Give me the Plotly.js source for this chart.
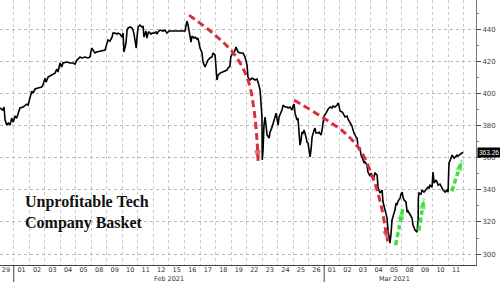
<!DOCTYPE html>
<html><head><meta charset="utf-8">
<script src="https://cdn.plot.ly/plotly-3.0.1.min.js"></script>
<style>html,body{margin:0;padding:0;background:#fff;}#chart{width:500px;height:282px;}</style>
</head><body><div id="chart"></div>
<script>
// Trading sessions shown on the axis (Jan 29 .. Mar 11, 2021)
const dayLabels = ['29','01','02','03','04','05','08','09','10','11','12','15','16','17','18','19','22','23','24','25','26','01','02','03','04','05','08','09','10','11'];
const monthLabels = ['Feb 2021','Mar 2021'];
const monthCenters = [11, 25.5];
const monthStarts = [1, 21];

// Intraday path of the basket: position in sessions (0 = Jan 29 open) and level
const sessionPos = [
0.11,0.29,0.37,0.44,0.55,0.65,0.76,0.87,0.97,1.08,1.19,1.29,1.40,1.60,1.83,1.92,2.05,2.16,2.24,2.37,2.56,2.80,2.88,3.01,3.08,3.21,3.44,3.66,3.77,3.85,3.98,4.09,4.17,4.41,4.62,4.82,4.95,5.06,5.27,5.38,5.59,5.78,5.91,6.02,6.11,6.23,6.34,6.56,
6.69,6.88,7.01,7.07,7.20,7.33,7.39,7.52,7.65,7.72,7.85,7.97,8.04,8.10,8.23,8.30,8.36,8.49,8.62,8.68,8.75,8.89,8.94,9.01,9.13,9.26,9.33,9.39,9.52,9.58,9.65,9.71,9.84,9.91,10.04,10.16,10.23,10.29,10.42,10.55,10.62,10.74,10.87,10.94,11.00,12.03,12.10,12.16,12.23,12.29,12.42,12.48,12.61,12.68,
12.81,12.87,13.00,13.13,13.19,13.32,13.45,13.51,13.64,13.77,13.84,13.97,14.09,14.16,14.29,14.48,14.74,14.80,14.93,14.98,15.13,15.19,15.32,15.45,15.58,15.71,15.77,15.90,16.03,16.09,16.22,16.35,16.54,16.67,16.74,16.87,16.93,16.99,17.01,17.06,17.12,17.19,17.25,17.32,17.45,17.51,17.64,17.70,17.83,17.90,17.96,18.03,18.09,18.22,18.28,18.35,18.48,
18.61,18.67,18.80,18.93,18.99,19.06,19.12,19.25,19.31,19.38,19.44,19.51,19.57,19.64,19.70,19.83,19.89,19.96,20.02,20.09,20.15,20.22,20.35,20.41,20.47,20.60,20.67,20.80,20.86,20.93,20.99,21.12,21.18,21.25,21.38,21.50,21.57,21.70,21.83,21.89,21.96,22.02,22.15,22.21,22.34,22.47,22.54,22.66,22.79,22.86,22.92,23.05,23.12,23.18,23.31,23.37,23.44,23.57,23.63,23.76,23.82,23.95,24.02,24.08,24.15,24.28,
24.41,24.47,24.60,24.73,24.79,24.92,25.05,25.11,25.18,25.24,25.31,25.37,25.50,25.56,25.63,25.69,25.76,25.89,25.95,26.02,26.08,26.14,26.27,26.34,26.40,26.53,26.66,26.72,26.85,26.98,27.05,27.07,27.11,27.24,27.30,27.43,27.56,27.69,27.76,27.82,27.95,28.01,28.08,28.21,28.27,28.34,28.46,28.59,28.66,28.79,28.91,28.98,29.00,29.04,29.17,29.24,29.37,29.43,29.56,29.62,29.75,29.88,29.95];
const basket = [
390.9,389.6,391.5,383.4,380.3,381.5,380.3,384.6,382.1,385.9,384.6,388.4,390.9,391.5,393.3,392.7,397.1,401.4,400.2,402.7,403.3,403.9,405.2,409.5,407.0,410.1,411.4,412.6,415.1,413.3,418.9,416.4,418.9,419.5,418.9,418.9,418.2,420.7,422.6,422.0,422.6,422.0,422.6,428.2,426.9,425.1,425.7,426.3,
426.3,426.9,431.3,433.2,432.5,435.0,437.5,437.5,436.9,437.5,436.9,435.0,437.5,425.7,431.3,439.4,440.6,441.3,440.6,439.4,436.9,428.2,435.0,441.3,442.5,441.3,441.9,435.0,438.8,434.4,437.5,438.2,436.9,437.5,437.5,438.2,436.9,438.2,439.4,438.8,438.8,439.4,437.5,438.2,438.8,438.8,443.7,445.0,442.5,439.4,431.9,435.7,434.4,435.0,
433.8,434.4,428.2,425.1,419.5,416.4,419.5,420.7,422.0,422.6,425.1,423.8,408.3,411.4,412.6,413.3,414.5,415.7,417.0,422.6,425.7,425.1,428.8,425.7,425.1,425.1,425.1,422.6,417.6,410.1,408.3,409.5,408.3,408.9,407.0,402.1,394.6,385.3,358.5,364.7,380.3,385.3,380.3,374.1,372.2,375.9,379.0,381.5,385.3,387.7,383.4,380.3,385.3,388.4,389.6,392.7,391.5,
391.5,390.9,391.5,389.6,392.1,393.3,387.7,383.4,384.6,377.2,367.8,370.9,375.9,375.3,377.2,372.8,369.7,369.1,366.0,360.4,364.7,372.8,377.2,378.4,375.3,375.3,375.9,374.1,377.2,381.5,385.9,387.7,389.0,390.2,391.5,390.9,392.1,391.5,392.7,394.0,392.1,389.0,388.4,387.7,385.3,385.9,384.0,382.1,379.7,377.2,375.3,372.8,372.2,366.6,366.0,361.6,360.4,356.6,357.3,355.4,351.0,348.5,350.4,347.9,346.1,350.4,
349.2,341.1,338.0,339.8,332.4,327.4,322.4,314.9,308.7,306.8,313.1,321.2,325.5,327.4,331.7,330.5,333.0,334.8,337.3,338.6,335.5,333.6,332.4,326.1,326.8,324.3,322.4,318.0,314.9,313.7,321.2,335.5,338.0,337.3,339.8,338.6,340.4,341.7,341.1,342.9,341.7,351.0,344.2,346.1,344.8,342.9,343.6,341.1,339.8,338.6,339.8,338.6,352.3,356.6,359.7,361.6,359.7,360.4,361.6,361.0,362.2,362.9,363.26];
const lastValue = 363.26;

// Hand-drawn arrow paths (session position, level)
const redArrow1X = [12.29,13.97,15.25,16.09,16.48,16.67,16.74];
const redArrow1Y = [448.7,436.3,423.8,408.3,389.6,370.9,358.0];
const redArrow2X = [19.06,20.86,22.34,23.31,24.08,24.66,24.98,25.09];
const redArrow2Y = [395.8,385.3,375.3,364.7,349.2,330.5,313.7,308.0];
const greenArrow1X = [25.60,25.82,26.06];
const greenArrow1Y = [305.5,316.2,328.0];
const greenArrow2X = [27.09,27.27,27.43];
const greenArrow2Y = [314.5,325.0,334.5];
const greenArrow3X = [29.22,29.56,29.88];
const greenArrow3Y = [339.0,349.2,358.3];

const yTicks = [300,320,340,360,380,400,420,440];

const dayCenters = dayLabels.map((_, i) => i + 0.5);

function arrowTrace(xs, ys, color, dash, width, headSize) {
  return {
    x: xs, y: ys, type: 'scatter', mode: 'lines+markers', hoverinfo: 'skip',
    line: {color: color, width: width, dash: dash, shape: 'spline', smoothing: 1},
    marker: {
      symbol: xs.map((_, i) => i === xs.length - 1 ? 'arrow' : 'circle'),
      size: xs.map((_, i) => i === xs.length - 1 ? headSize : 0),
      color: color, angleref: 'previous', line: {width: 0}
    },
    showlegend: false
  };
}

const red = '#d7303f';
const green = '#3fe03a';

const traces = [
  {x: sessionPos, y: basket, type: 'scatter', mode: 'lines',
   line: {color: '#000', width: 1.6}, showlegend: false, hoverinfo: 'skip'},
  arrowTrace(redArrow1X, redArrow1Y, red, '7px,4px', 3, 11),
  arrowTrace(redArrow2X, redArrow2Y, red, '7px,4px', 3, 11),
  arrowTrace(greenArrow1X, greenArrow1Y, green, '5px,3px', 3.5, 11),
  arrowTrace(greenArrow2X, greenArrow2Y, green, '5px,3px', 3.5, 11),
  arrowTrace(greenArrow3X, greenArrow3Y, green, '5px,3px', 3.5, 11)
];

const annotations = [
  {xref: 'paper', yref: 'paper', x: 0.048, y: 0.198, xanchor: 'left', yanchor: 'middle', align: 'left',
   text: '<b>Unprofitable Tech<br>Company Basket</b>', showarrow: false,
   font: {family: 'Liberation Serif, Times New Roman, serif', size: 16, color: '#111'}},
  {xref: 'paper', yref: 'y', x: 1.003, y: lastValue, xanchor: 'left', yanchor: 'middle',
   text: lastValue.toFixed(2), showarrow: false, bgcolor: '#000', borderpad: 1,
   font: {family: 'Liberation Sans, Arial, sans-serif', size: 6.5, color: '#fff'}}
];
monthLabels.forEach((m, i) => annotations.push({
  xref: 'x', yref: 'paper', x: monthCenters[i], y: -0.053, xanchor: 'center', yanchor: 'middle',
  text: m, showarrow: false, font: {family: 'DejaVu Sans, sans-serif', size: 6.5, color: '#333'}
}));

const shapes = monthStarts.map(v => ({
  type: 'line', xref: 'x', yref: 'paper', x0: v, x1: v, y0: 0, y1: -0.075,
  line: {color: '#444', width: 1}
}));

const layout = {
  width: 500, height: 282,
  margin: {l: 0, r: 24, t: 0, b: 17, pad: 0},
  paper_bgcolor: '#fff', plot_bgcolor: '#fff',
  showlegend: false,
  xaxis: {
    range: [0.113, 30.78], tickmode: 'array', tickvals: dayCenters, ticktext: dayLabels,
    ticks: '', ticklabelstandoff: -2, showgrid: false, zeroline: false, showline: true, linecolor: '#444', linewidth: 1,
    tickfont: {family: 'DejaVu Sans, sans-serif', size: 6.5, color: '#333'},
    minor: {tickmode: 'linear', tick0: 0, dtick: 1, showgrid: true, gridcolor: '#c8c8c8', griddash: 'dot', gridwidth: 1, ticks: ''}
  },
  yaxis: {
    range: [293.2, 458.1], side: 'right', tickmode: 'array', tickvals: yTicks,
    ticks: 'outside', ticklen: 4, tickcolor: '#444', tickwidth: 1,
    showgrid: true, gridcolor: '#b8b8b8', griddash: 'dot', gridwidth: 1,
    zeroline: false, showline: true, linecolor: '#777', linewidth: 1,
    tickfont: {family: 'DejaVu Sans, sans-serif', size: 7, color: '#444'},
    minor: {tickmode: 'linear', tick0: 300, dtick: 10, ticks: 'outside', ticklen: 2, tickcolor: '#777', showgrid: false}
  },
  annotations: annotations,
  shapes: shapes
};

Plotly.newPlot('chart', traces, layout, {displayModeBar: false, staticPlot: true});
</script>
</body></html>
